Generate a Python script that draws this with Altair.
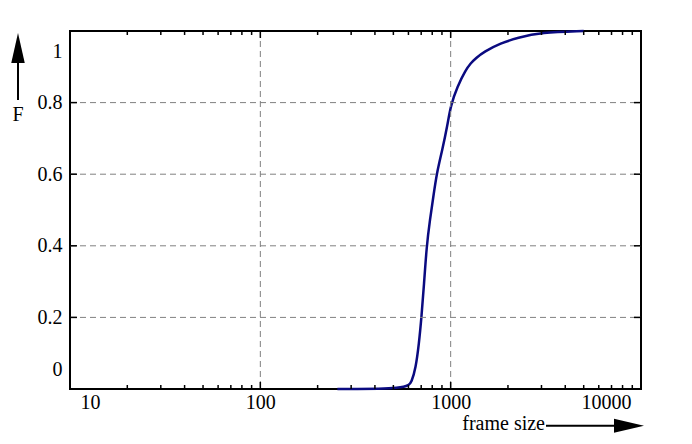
import altair as alt
import pandas as pd

# CDF curve
frame_size = [254, 592, 624, 655, 681, 703, 724, 748, 778, 811, 844, 904, 962,
              1000, 1084, 1199, 1274, 1355, 1496, 1833, 2245, 2977, 5000]
F = [0.0, 0.0, 0.02, 0.058, 0.125, 0.202, 0.291, 0.40, 0.472, 0.537, 0.602,
     0.668, 0.737, 0.792, 0.845, 0.891, 0.910, 0.924, 0.942, 0.966, 0.981,
     0.996, 1.0]

x_major = [10, 100, 1000, 10000]
x_minor = [20, 30, 40, 50, 60, 70, 80, 90,
           200, 300, 400, 500, 600, 700, 800, 900,
           2000, 3000, 4000, 5000, 6000, 7000, 8000, 9000]
x_grid = [100, 1000]
y_labels = [0, 0.2, 0.4, 0.6, 0.8, 1]
y_grid = [0.2, 0.4, 0.6, 0.8]

W, H = 571, 358
FONT = "Liberation Serif"
FS = 20

xs = alt.Scale(type="log", domain=[10, 10000], nice=False)
ys = alt.Scale(domain=[0, 1], nice=False, zero=False)

x_axis = alt.Axis(values=x_major, format="d", title=None, grid=False,
                  ticks=False, domain=False, labelFlush=True,
                  labelFlushOffset=-10, labelPadding=3,
                  labelFont=FONT, labelFontSize=FS, labelColor="black")
y_axis = alt.Axis(values=y_labels, format="~g", title=None, grid=False,
                  ticks=False, domain=False, labelFlush=True,
                  labelFlushOffset=-10, labelPadding=8,
                  labelFont=FONT, labelFontSize=FS, labelColor="black")

curve_df = pd.DataFrame({"size": frame_size, "F": F})

curve = alt.Chart(curve_df).mark_line(
    color="#0a0a80", strokeWidth=2.5, interpolate="basis"
).encode(
    x=alt.X("size:Q", scale=xs, axis=x_axis),
    y=alt.Y("F:Q", scale=ys, axis=y_axis),
)

vgrid = alt.Chart(pd.DataFrame({"v": x_grid})).mark_rule(
    color="#808080", strokeWidth=1, strokeDash=[6, 4]
).encode(x=alt.X("v:Q", scale=xs, axis=x_axis), y=alt.value(0), y2=alt.value(H))

hgrid = alt.Chart(pd.DataFrame({"v": y_grid})).mark_rule(
    color="#808080", strokeWidth=1, strokeDash=[6, 4]
).encode(y=alt.Y("v:Q", scale=ys, axis=y_axis), x=alt.value(0), x2=alt.value(W))

major_df = pd.DataFrame({"v": x_major})
minor_df = pd.DataFrame({"v": x_minor})
ytick_df = pd.DataFrame({"v": y_grid})

tick_style = dict(color="black", strokeWidth=1.5)
xt_major_b = alt.Chart(major_df).mark_rule(**tick_style).encode(
    x=alt.X("v:Q", scale=xs, axis=x_axis), y=alt.value(H - 7), y2=alt.value(H))
xt_major_t = alt.Chart(major_df).mark_rule(**tick_style).encode(
    x=alt.X("v:Q", scale=xs, axis=x_axis), y=alt.value(0), y2=alt.value(7))
xt_minor_b = alt.Chart(minor_df).mark_rule(**tick_style).encode(
    x=alt.X("v:Q", scale=xs, axis=x_axis), y=alt.value(H - 4), y2=alt.value(H))
xt_minor_t = alt.Chart(minor_df).mark_rule(**tick_style).encode(
    x=alt.X("v:Q", scale=xs, axis=x_axis), y=alt.value(0), y2=alt.value(4))
yt_l = alt.Chart(ytick_df).mark_rule(**tick_style).encode(
    y=alt.Y("v:Q", scale=ys, axis=y_axis), x=alt.value(0), x2=alt.value(7))
yt_r = alt.Chart(ytick_df).mark_rule(**tick_style).encode(
    y=alt.Y("v:Q", scale=ys, axis=y_axis), x=alt.value(W - 7), x2=alt.value(W))

one = alt.Data(values=[{"a": 1}])

# y-axis arrow and label
up_shaft = alt.Chart(one).mark_rule(color="black", strokeWidth=2).encode(
    x=alt.value(-52), y=alt.value(30), y2=alt.value(69))
up_head = alt.Chart(one).mark_point(
    shape="M0,-1L0.45,1L-0.45,1Z", filled=True, color="black", opacity=1, size=900
).encode(x=alt.value(-52), y=alt.value(17))
f_text = alt.Chart(one).mark_text(
    text="F", font=FONT, fontSize=FS, color="black", baseline="middle", align="center"
).encode(x=alt.value(-52), y=alt.value(84))

# x-axis arrow and label
r_shaft = alt.Chart(one).mark_rule(color="black", strokeWidth=2).encode(
    x=alt.value(476), x2=alt.value(548), y=alt.value(394.7))
r_head = alt.Chart(one).mark_point(
    shape="M1,0L-1,-0.47L-1,0.47Z", filled=True, color="black", opacity=1, size=900
).encode(x=alt.value(559), y=alt.value(394.7))
x_text = alt.Chart(one).mark_text(
    text="frame size", font=FONT, fontSize=FS, color="black",
    baseline="middle", align="right"
).encode(x=alt.value(475), y=alt.value(393))

chart = alt.layer(
    curve, vgrid, hgrid, xt_major_b, xt_major_t, xt_minor_b, xt_minor_t, yt_l, yt_r,
    up_shaft, up_head, f_text, r_shaft, r_head, x_text
).properties(
    width=W, height=H,
    autosize=alt.AutoSizeParams(type="none"),
    padding={"left": 62, "top": 23, "right": 43, "bottom": 47},
).configure(background="white").configure_view(stroke="black", strokeWidth=2)

chart.save("out.html", embed_options={"renderer": "svg", "actions": False})
